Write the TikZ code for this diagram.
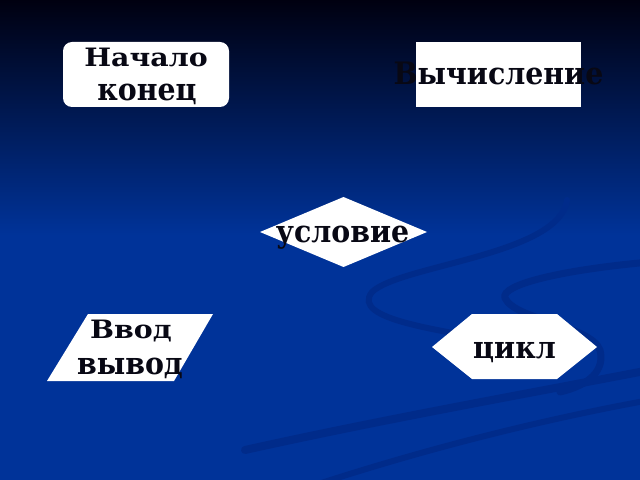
\documentclass[tikz,border=0pt]{standalone}
\usepackage{fontspec}
\newfontfamily\lblfont{DejaVu Serif}[FakeStretch=0.92]
\definecolor{bgtop}{RGB}{0,0,16}
\definecolor{bgblue}{RGB}{0,51,153}
\definecolor{swoosh}{RGB}{0,43,138}
\definecolor{txt}{RGB}{8,8,20}
\begin{document}
\begin{tikzpicture}[x=1bp,y=-1bp,
  box/.style={fill=white, draw=none},
  lbl/.style={font=\lblfont\bfseries\fontsize{31}{31}\selectfont, text=txt, inner sep=0pt, anchor=base},
  wave/.style={draw=swoosh, line cap=round}
]
\useasboundingbox (0,0) rectangle (640,480);
% background
\fill[bgblue] (0,0) rectangle (640,480);
\shade[top color=bgtop, bottom color=bgblue] (0,0) rectangle (640,235);
% swooshes
\begin{scope}
\clip (0,0) rectangle (640,480);
\draw[wave, line width=6bp] (567,200) .. controls (560,255) and (400,265) .. (372,292) .. controls (350,320) and (440,330) .. (520,345);
\draw[wave, line width=7bp] (650,262) .. controls (560,270) and (500,285) .. (505,298) .. controls (515,320) and (590,325) .. (600,350) .. controls (605,370) and (590,385) .. (560,392);
\draw[wave, line width=8bp] (245,450) .. controls (380,420) and (520,395) .. (650,370);
\draw[wave, line width=6bp] (300,490) .. controls (420,450) and (540,420) .. (650,400);
\end{scope}
% shapes
\node[box, rounded corners=9bp, minimum width=166bp, minimum height=65bp, inner sep=0pt] (start) at (146,74.5) {};
\node[box, minimum width=165bp, minimum height=65bp, inner sep=0pt] (calc) at (498.5,74.5) {};
\fill[white] (260,232) -- (343.5,197) -- (427,232) -- (343.5,267) -- cycle;
\coordinate (cond) at (343.5,232);
\fill[white] (88,314) -- (213,314) -- (174,381) -- (47,381) -- cycle;
\fill[white] (432,347) -- (472,314) -- (557,314) -- (597,347) -- (557,379) -- (472,379) -- cycle;
% labels
\node[lbl] (t1) at (146,66.7) {\scalebox{1}[0.82]{Начало}};
\node[lbl] (t2) at (147,101) {конец};
\node[lbl] (t3) at (498.5,85) {Вычисление};
\node[lbl] (t4) at (342.5,243) {условие};
\node[lbl] (t5) at (131,338) {\scalebox{1}[0.82]{Ввод}};
\node[lbl] (t6) at (130,374) {вывод};
\node[lbl] (t7) at (514.5,358) {цикл};
\end{tikzpicture}
\end{document}
